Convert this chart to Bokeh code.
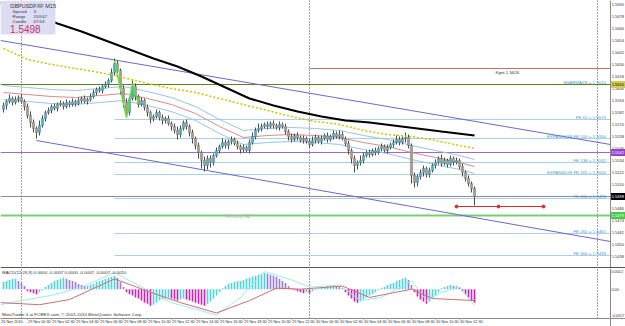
from bokeh.plotting import figure
from bokeh.layouts import column
from bokeh.models import Range1d
from bokeh.core.properties import value
from bokeh.embed import file_html
from bokeh.resources import INLINE

# ---------------- data ----------------
first_open = 1.5585
closes = [
    1.5589, 1.5593, 1.5596, 1.5592, 1.5595, 1.5597, 1.5593, 1.5588, 1.5579, 1.5572,
    1.5566, 1.5562, 1.5569, 1.5576, 1.5582, 1.5584, 1.5588, 1.5586, 1.5590, 1.5591,
    1.5588, 1.5592, 1.5590, 1.5593, 1.5591, 1.5594, 1.5596, 1.5593, 1.5595, 1.5598,
    1.5602, 1.5605, 1.5604, 1.5608, 1.5610, 1.5614, 1.5622, 1.5631, 1.5624, 1.5606,
    1.5592, 1.5582, 1.5596, 1.5608, 1.5598, 1.5590, 1.5594, 1.5587, 1.5582, 1.5576,
    1.5578, 1.5582, 1.5577, 1.5574, 1.5576, 1.5571, 1.5568, 1.5564, 1.5560, 1.5566,
    1.5572, 1.5568, 1.5562, 1.5556, 1.5549, 1.5542, 1.5534, 1.5529, 1.5536, 1.5532,
    1.5539, 1.5544, 1.5548, 1.5552, 1.5549, 1.5553, 1.5555, 1.5551, 1.5548, 1.5545,
    1.5547, 1.5544, 1.5552, 1.5558, 1.5564, 1.5566, 1.5568, 1.5570, 1.5568, 1.5571,
    1.5569, 1.5567, 1.5570, 1.5568, 1.5563, 1.5558, 1.5555, 1.5559, 1.5557, 1.5554,
    1.5556, 1.5553, 1.5550, 1.5554, 1.5557, 1.5553, 1.5556, 1.5559, 1.5555, 1.5558,
    1.5561, 1.5558, 1.5560, 1.5556, 1.5551, 1.5544, 1.5536, 1.5529, 1.5532, 1.5534,
    1.5539, 1.5542, 1.5540, 1.5544, 1.5542, 1.5546, 1.5548, 1.5544, 1.5547, 1.5550,
    1.5552, 1.5555, 1.5552, 1.5556, 1.5557, 1.5549, 1.5519, 1.5512, 1.5518, 1.5522,
    1.5526, 1.5520, 1.5524, 1.5529, 1.5532, 1.5536, 1.5531, 1.5534, 1.5530, 1.5536,
    1.5532, 1.5534, 1.5528, 1.5522, 1.5516, 1.5511, 1.5506, 1.5498]
up_wick_pips = [
    3, 2, 4, 2, 3, 2, 3, 2, 3, 4, 3, 2, 5, 3, 2, 3, 2, 3, 2, 3,
    2, 3, 2, 3, 2, 3, 2, 3, 2, 3, 3, 2, 3, 2, 3, 2, 4, 5, 3, 2,
    3, 4, 2, 6, 3, 2, 3, 2, 3, 2, 2, 3, 2, 3, 2, 3, 2, 3, 4, 3,
    2, 3, 2, 3, 2, 3, 2, 4, 3, 3, 2, 3, 2, 4, 3, 2, 3, 2, 3, 2,
    3, 2, 3, 4, 3, 5, 3, 2, 3, 2, 3, 2, 3, 2, 3, 2, 3, 2, 3, 2,
    3, 2, 3, 4, 3, 2, 3, 2, 3, 2, 3, 2, 4, 3, 2, 3, 2, 3, 2, 5,
    3, 2, 3, 2, 3, 2, 3, 2, 3, 2, 3, 4, 3, 2, 5, 3, 2, 3, 2, 3,
    3, 2, 3, 2, 3, 2, 4, 3, 2, 3, 2, 3, 2, 3, 2, 3, 2, 2]
dn_wick_pips = [
    3, 4, 2, 3, 2, 3, 2, 4, 3, 5, 4, 6, 3, 2, 3, 2, 3, 2, 3, 2,
    3, 2, 3, 2, 3, 2, 3, 2, 3, 2, 2, 3, 2, 3, 2, 3, 2, 3, 4, 6,
    5, 4, 3, 2, 4, 3, 2, 3, 4, 5, 3, 2, 3, 4, 3, 2, 4, 3, 5, 3,
    2, 3, 4, 5, 4, 6, 8, 6, 4, 5, 3, 2, 3, 2, 3, 4, 3, 2, 3, 4,
    3, 2, 3, 2, 3, 2, 3, 2, 3, 2, 3, 2, 3, 2, 3, 4, 3, 2, 3, 2,
    3, 2, 3, 2, 3, 2, 3, 2, 3, 2, 3, 2, 3, 2, 3, 4, 5, 7, 4, 3,
    3, 2, 3, 2, 3, 2, 3, 2, 3, 2, 3, 2, 3, 2, 4, 3, 8, 5, 4, 3,
    4, 3, 3, 2, 3, 2, 3, 2, 3, 2, 3, 2, 3, 4, 3, 3, 4, 9]
pip = 0.0001

# moving averages (read at sampled bars)
black_ma_bars = [-1, 8, 18, 26, 34, 42, 50, 58, 66, 74, 82, 90, 98, 106, 114, 122, 130, 138, 146, 157]
black_ma = [1.5692, 1.5682, 1.5671, 1.5663, 1.5654, 1.5645, 1.5636, 1.5628, 1.5618, 1.5607,
            1.5596, 1.5589, 1.5583, 1.5578, 1.5574, 1.5572, 1.5569, 1.5566, 1.5563, 1.5559]
ma_bars = [0, 8, 16, 24, 32, 40, 48, 56, 64, 72, 80, 88, 96, 104, 112, 120, 128, 136, 144, 152, 157]
yellow_ma = [1.5646, 1.5635, 1.5630, 1.5626, 1.5622, 1.5617, 1.5611, 1.5606, 1.5602, 1.5596,
             1.5590, 1.5584, 1.5578, 1.5573, 1.5570, 1.5564, 1.5560, 1.5558, 1.5554, 1.5549, 1.5546]
red_ma = [1.5602, 1.5600, 1.5598, 1.5597, 1.5599, 1.5601, 1.5596, 1.5590, 1.5581, 1.5568,
          1.5557, 1.5559, 1.5560, 1.5559, 1.5557, 1.5552, 1.5548, 1.5542, 1.5537, 1.5532, 1.5528]
band_offset = 0.0007

zigzag_bars = [37, 41, 43, 45]
zigzag_px = [1.5634, 1.5577, 1.5611, 1.5591]

# trend lines (bar, price) endpoints
upper_trend = ([-1, 202.3], [1.5654, 1.5550])
lower_trend = ([11, 202.3], [1.5554, 1.5453])

# horizontal levels
kgnt_level = 1.5626
olive_level = 1.5610
purple_level = 1.5542
bid_level = 1.5498
s2_level = 1.5479
fe_names = ["FE 61", "EXPANSION FE 100", "FE 138", "EXPANSION FE 161", "FE 200", "FE 261", "FE 300"]
fe_levels = [1.5575, 1.5556, 1.5532, 1.5520, 1.5496, 1.5461, 1.5439]
fe_start_bar = 37
kgnt_start_bar = 102
target_bars = [151, 165, 180]
target_level = 1.5488

price_ticks = [1.5690, 1.5678, 1.5666, 1.5654, 1.5642, 1.5630, 1.5618, 1.5606, 1.5594, 1.5582,
               1.5570, 1.5558, 1.5546, 1.5534, 1.5522, 1.5510, 1.5486, 1.5474, 1.5462, 1.5450, 1.5438]

day_sep_bars = [6, 102, 198]
time_label_bars = [-1, 8, 16, 24, 32, 40, 48, 56, 64, 72, 80, 88, 96, 104, 112, 120, 128, 136, 144, 152]
time_labels = ["26 Nov 2010", "29 Nov 00:30", "29 Nov 02:30", "29 Nov 04:30", "29 Nov 06:30",
               "29 Nov 08:30", "29 Nov 10:30", "29 Nov 12:30", "29 Nov 14:30", "29 Nov 16:30",
               "29 Nov 18:30", "29 Nov 20:30", "29 Nov 22:30", "30 Nov 00:30", "30 Nov 02:30",
               "30 Nov 04:30", "30 Nov 06:30", "30 Nov 08:30", "30 Nov 10:30", "30 Nov 12:30"]

macd_hist = [
    0.00042, 0.00048, 0.00054, 0.0006, 0.0006, 0.00048, 0.00036, 0.00018, -0.00012, -0.00018,
    -0.00024, -0.0003, -0.00018, -0.00006, 0.00012, 0.00024, 0.00036, 0.00048, 0.00054, 0.0006,
    0.00066, 0.0006, 0.00054, 0.00048, 0.00042, 0.0003, 0.00024, 0.00018, 0.00018, 0.00024,
    0.0003, 0.00042, 0.00048, 0.00054, 0.0006, 0.00066, 0.00072, 0.00078, 0.00066, 0.00042,
    0.00012, -0.00018, -0.0003, -0.00036, -0.00048, -0.00054, -0.00066, -0.00078, -0.00084, -0.00096,
    -0.0009, -0.00078, -0.00066, -0.0006, -0.00054, -0.00048, -0.00054, -0.0006, -0.00066, -0.0006,
    -0.00054, -0.0006, -0.00066, -0.00072, -0.00078, -0.00084, -0.0009, -0.00096, -0.00084, -0.00072,
    -0.00054, -0.00036, -0.00018, 0.00006, 0.00018, 0.0003, 0.00036, 0.00042, 0.00048, 0.00048,
    0.00054, 0.0006, 0.00066, 0.00072, 0.00078, 0.00084, 0.0009, 0.00096, 0.0009, 0.00084,
    0.00078, 0.00072, 0.0006, 0.00048, 0.00036, 0.00018, 0.00006, -0.00006, -0.00012, -0.00018,
    -0.00024, -0.00018, -0.00024, -0.00012, -0.00006, 0.00006, 0.00012, 0.00012, 0.00018, 0.00018,
    0.00024, 0.00018, 0.00012, 0.00006, -0.00018, -0.00036, -0.00054, -0.00072, -0.00078, -0.00072,
    -0.0006, -0.00048, -0.00036, -0.0003, -0.00018, -0.00006, 0.00006, 0.00012, 0.00024, 0.0003,
    0.00036, 0.00048, 0.00054, 0.0006, 0.00066, 0.00054, 0.00024, -0.00018, -0.00042, -0.0006,
    -0.00072, -0.00084, -0.00072, -0.00054, -0.00036, -0.00018, 0.00006, 0.00012, 0.00018, 0.00024,
    0.00018, 0.00018, 0.00012, -0.00012, -0.0003, -0.00048, -0.00066, -0.00078]
macd_slow_bars = [-1, 12, 22, 37, 49, 59, 71, 82, 91, 99, 113, 122, 136, 143, 150, 157]
macd_slow = [-0.00078, -0.0009, -0.0006, 0.0006, -0.00018, -0.00078, -0.00138, -0.00066,
             0.00006, 0.0, 0.00018, -0.00048, 0.0, -0.00054, -0.0006, -0.00066]
macd_fast_bars = [-1, 6, 16, 26, 37, 46, 56, 66, 71, 79, 87, 96, 102, 112, 119, 126, 136, 141, 146, 152, 157]
macd_fast = [-0.0009, -0.00066, -0.00036, 0.00012, 0.00096, 0.00012, -0.00078, -0.00126, -0.0015,
             -0.00048, 0.00102, 0.00054, 0.00012, 0.00024, -0.00066, -0.00048, 0.00048, -0.00066,
             -0.00018, 0.00012, -0.00096]
macd_ticks = [0.0012, 0.0, -0.0017]
macd_tick_labels = ["0.0012", "0.00", "-0.0017"]

# ---------------- layout constants ----------------
X_LO, X_HI = -1.0, 207.33
AXIS_X = 202.33
Y_LO, Y_HI = 1.5426, 1.5694
M_LO, M_HI = -0.002164, 0.0012
FONT = value("Liberation Sans")
SMALL = "4.4px"
AXF = "4px"


def base_fig(h, ylo, yhi):
    f = figure(width=625, height=h, x_range=Range1d(X_LO, X_HI), y_range=Range1d(ylo, yhi),
               output_backend="svg", toolbar_location=None, x_axis_location=None,
               y_axis_location=None, min_border=0, outline_line_color=None,
               background_fill_color="white", border_fill_color="white")
    f.grid.grid_line_color = None
    return f


# ---------------- main panel ----------------
p = base_fig(268, Y_LO, Y_HI)
n = len(closes)
bars = list(range(n))
opens = [first_open] + closes[:-1]
highs = [max(o, c) + u * pip for o, c, u in zip(opens, closes, up_wick_pips)]
lows = [min(o, c) - d * pip for o, c, d in zip(opens, closes, dn_wick_pips)]

# day separators
for b in day_sep_bars:
    p.segment(x0=b, y0=Y_LO, x1=b, y1=Y_HI, line_color="#444444", line_dash="1 2", line_width=1)

# horizontal levels
p.segment(x0=X_LO, y0=olive_level, x1=AXIS_X, y1=olive_level, line_color="#5d7f1c", line_width=1.2)
p.segment(x0=X_LO, y0=purple_level, x1=AXIS_X, y1=purple_level, line_color="#9b6cc4", line_width=1.2)
p.segment(x0=X_LO, y0=s2_level, x1=AXIS_X, y1=s2_level, line_color="#77d077", line_width=2)
p.segment(x0=X_LO, y0=bid_level, x1=AXIS_X, y1=bid_level, line_color="#8c8c9c", line_width=1)
p.segment(x0=kgnt_start_bar, y0=kgnt_level, x1=AXIS_X, y1=kgnt_level, line_color="#bb7766", line_width=1.2)
for lv in fe_levels:
    p.segment(x0=fe_start_bar, y0=lv, x1=AXIS_X, y1=lv, line_color="#a9d0ea", line_width=1.2)

# trend lines
p.line(upper_trend[0], upper_trend[1], line_color="#6a6ac8", line_width=1)
p.line(lower_trend[0], lower_trend[1], line_color="#6a6ac8", line_width=1)

# envelope bands
p.line(ma_bars, [v + band_offset for v in red_ma], line_color="#98c4e6", line_width=1)
p.line(ma_bars, [v - band_offset for v in red_ma], line_color="#98c4e6", line_width=1)
p.line(ma_bars, red_ma, line_color="#d98a8a", line_width=1)

# candles
bull = [c >= o for o, c in zip(opens, closes)]
p.segment(x0=bars, y0=lows, x1=bars, y1=highs, line_color="#4a4a4a", line_width=1)
tops = [max(o, c) for o, c in zip(opens, closes)]
bots = [min(o, c) for o, c in zip(opens, closes)]
bots = [b if t - b > 0.00005 else t - 0.00005 for t, b in zip(tops, bots)]
colors = ["#3fb6cf" if b else "#a89e8e" for b in bull]
p.vbar(x=bars, top=tops, bottom=bots, width=0.75, fill_color=colors, line_color="#6a6a6a",
       line_width=0.4)

# moving averages
p.line(ma_bars, yellow_ma, line_color="#c8c800", line_width=1.5, line_dash="2 2")
p.line(black_ma_bars, black_ma, line_color="#000000", line_width=2)
p.line(zigzag_bars, zigzag_px, line_color="#66dd33", line_width=1.5)

# target segment
p.line(target_bars, [target_level] * len(target_bars), line_color="#cc3333", line_width=1.2)
p.scatter(target_bars, [target_level] * len(target_bars), size=3, color="#cc3333")

# level labels
p.text(x=[AXIS_X - 1.5] * len(fe_levels), y=fe_levels,
       text=[f"{nm} = {lv:.4f}" for nm, lv in zip(fe_names, fe_levels)],
       text_align="right", text_baseline="bottom", text_font=FONT, text_font_size=SMALL,
       text_color="#3f9ccc")
p.text(x=[AXIS_X - 1.5], y=[olive_level], text=[f"SHARMAZE = {olive_level:.4f}"],
       text_align="right", text_baseline="bottom", text_font=FONT, text_font_size=SMALL,
       text_color="#3f9ccc")
p.text(x=[164], y=[kgnt_level - 0.0001], text=[f"Kgnt  {kgnt_level:.4f}"], text_align="left",
       text_baseline="top", text_font=FONT, text_font_size=SMALL, text_color="#333333")
p.text(x=[74], y=[s2_level], text=["Monthly S2"], text_align="left", text_baseline="middle",
       text_font=FONT, text_font_size="5px", text_color="#b4b4b4")

# right axis
p.segment(x0=AXIS_X, y0=Y_LO, x1=AXIS_X, y1=Y_HI, line_color="#8a8a8a", line_width=1)
p.text(x=[AXIS_X + 0.4] * len(price_ticks), y=price_ticks, text=[f"{t:.4f}" for t in price_ticks],
       text_align="left", text_baseline="middle", text_font=FONT, text_font_size=AXF,
       text_color="#333333")
box_levels = [olive_level, purple_level, bid_level, s2_level]
box_fill = ["#cfcf4e", "#9a3fcf", "#000000", "#44cc44"]
box_text = ["#000000", "#ffffff", "#ffffff", "#ffffff"]
p.quad(left=[AXIS_X + 0.2] * 4, right=[X_HI] * 4, top=[v + 0.00035 for v in box_levels],
       bottom=[v - 0.00035 for v in box_levels], fill_color=box_fill, line_color=None)
p.text(x=[AXIS_X + 0.4] * 4, y=box_levels, text=[f"{v:.4f}" for v in box_levels],
       text_align="left", text_baseline="middle", text_font=FONT, text_font_size=AXF,
       text_color=box_text)

# panel separator
p.segment(x0=X_LO, y0=Y_LO + 0.00006, x1=X_HI, y1=Y_LO + 0.00006, line_color="#555555", line_width=2)

# info box
p.quad(left=[X_LO], right=[17.3], top=[Y_HI], bottom=[Y_HI - 0.0034], fill_color="#dcdcf2",
       line_color=None)
p.text(x=[2.2], y=[Y_HI - 0.0005], text=["GBPUSDFXF    M15"], text_align="left",
       text_baseline="middle", text_font=FONT, text_font_size="5.5px", text_color="#333344")
p.text(x=[3.0, 3.0, 3.0], y=[Y_HI - 0.0011, Y_HI - 0.0016, Y_HI - 0.0021],
       text=["Spread", "Range", "Candle"], text_align="left", text_baseline="middle",
       text_font=FONT, text_font_size=SMALL, text_color="#333344")
p.text(x=[10.0, 10.0, 10.0], y=[Y_HI - 0.0011, Y_HI - 0.0016, Y_HI - 0.0021],
       text=["3", "153.67", "07:03"], text_align="left", text_baseline="middle",
       text_font=FONT, text_font_size=SMALL, text_color="#333344")
p.text(x=[2.2], y=[Y_HI - 0.00285], text=[f"{bid_level:.4f}"], text_align="left",
       text_baseline="middle", text_font=FONT, text_font_size="10px", text_color="#cc3366")

# ---------------- MACD panel ----------------
m = base_fig(58, M_LO, M_HI)
for b in day_sep_bars:
    m.segment(x0=b, y0=-0.0017, x1=b, y1=M_HI, line_color="#444444", line_dash="1 2", line_width=1)

hist_colors = []
for i, v in enumerate(macd_hist):
    prev = macd_hist[i - 1] if i > 0 else v
    if v >= prev:
        hist_colors.append("#4fd3d6")
    elif v > 0:
        hist_colors.append("#9c7fd2")
    else:
        hist_colors.append("#c628b4")
m.vbar(x=list(range(len(macd_hist))), top=macd_hist, bottom=0, width=0.55,
       fill_color=hist_colors, line_color=None)
m.line(macd_fast_bars, macd_fast, line_color="#9eeaea", line_width=1)
m.line(macd_slow_bars, macd_slow, line_color="#cc7070", line_width=1)

m.segment(x0=AXIS_X, y0=M_LO, x1=AXIS_X, y1=M_HI, line_color="#8a8a8a", line_width=1)
m.segment(x0=X_LO, y0=-0.0017, x1=X_HI, y1=-0.0017, line_color="#8a8a8a", line_width=1)
m.text(x=[AXIS_X + 0.3] * 3, y=[0.00105, 0.0, -0.00155], text=macd_tick_labels, text_align="left",
       text_baseline="middle", text_font=FONT, text_font_size="3.8px", text_color="#333333")
m.text(x=[-0.5], y=[0.00097], text=["MACD(12,26,9) 0.0000 -0.0007 0.0000 -0.0007 -0.0007 -0.0010"],
       text_align="left", text_baseline="middle", text_font=FONT, text_font_size=SMALL,
       text_color="#333333")
m.text(x=[-0.5], y=[-0.00145],
       text=["MetaTrader 4 at FOREX.com, \u00a9 2001-2010 MetaQuotes Software Corp."],
       text_align="left", text_baseline="middle", text_font=FONT, text_font_size=SMALL,
       text_color="#333333")
m.segment(x0=time_label_bars, y0=[-0.0017] * len(time_label_bars), x1=time_label_bars,
          y1=[-0.00176] * len(time_label_bars), line_color="#8a8a8a")
m.text(x=[b + 0.2 for b in time_label_bars], y=[-0.00192] * len(time_label_bars), text=time_labels,
       text_align="left", text_baseline="middle", text_font=FONT, text_font_size="3.8px",
       text_color="#333333")

layout = column(p, m, spacing=0)
open("out.html", "w").write(file_html(layout, INLINE))
